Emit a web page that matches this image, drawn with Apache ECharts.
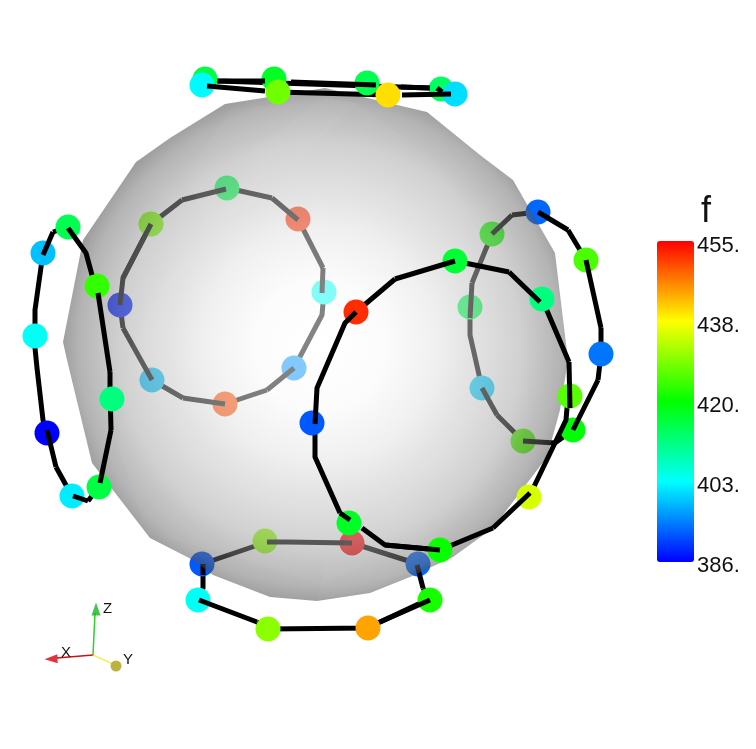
<!DOCTYPE html>
<html>
<head>
<meta charset="utf-8">
<style>html,body{margin:0;padding:0;background:#fff}#main{width:756px;height:749px}</style>
<script src="https://cdn.jsdelivr.net/npm/echarts@6/dist/echarts.min.js"></script>
</head>
<body>
<div id="main"></div>
<script>
const backLeftDots = [[227,188,415],[298,219,452],[324,292,404],[294,368,396],[225,404,450],[152,380,399],[120,305,388],[151,224,429]];
const rightDots = [[538,212,393],[586,260,425.5],[601,354,394],[573,430,420],[523,441,426],[482,388,400],[470,307,415],[492,234,422]];
const bottomDots = [[202,564,392],[265,541,430],[352,543,455],[418,564,393],[430,600,422],[368,628,444],[268,629,430],[198,600,404]];
const bigDots = [[356,312,452],[455,261,417],[542,299,412],[570,396,426.5],[529,497,435],[440,550,421],[349,523,418],[312,423,392]];
const leftDots = [[68,227,415],[97,286,424],[112,399,412],[99,487,416],[72,496,402],[47,433,386],[35,336,404],[43,253,399]];
const topDots = [[205,79,416],[274,79,418],[367,83,415],[441,89,414],[455,94,401],[202,85,403],[278,92,428],[388,95,440]];

// tube pieces that run under the dots / over the dots
const backUnder = [
  [[151,224],[182,200]], [[227,188],[272,198]], [[298,219],[323,268]], [[324,292],[322,315],[294,368]],
  [[225,404],[267,390]], [[152,380],[183,398]], [[120,305],[123,328]], [[123,278],[151,224]],
  [[512,215],[538,212]], [[568,230],[586,260]], [[601,328],[601,354],[598,380]], [[573,430],[555,443]],
  [[523,441],[497,415]], [[482,388],[470,335],[470,307]], [[472,283],[492,234]],
  [[202,564],[267,542]], [[203,564],[203,588],[198,600]], [[352,543],[418,564]], [[423,588],[430,600]],
  [[427,600],[380,622],[368,628],[268,629],[257,622]]
];
const backOver = [
  [[182,200],[226,189]], [[272,198],[298,220]], [[323,268],[322,293]], [[267,390],[294,368]],
  [[183,398],[225,404]], [[123,328],[152,380]], [[120,305],[123,278],[151,224]],
  [[492,234],[512,215]], [[538,212],[568,230]], [[586,260],[601,328]], [[598,380],[573,430]],
  [[555,443],[523,441]], [[497,415],[482,388]], [[472,283],[470,318]],
  [[267,542],[287,542],[352,543]], [[203,564],[203,575]], [[417,565],[423,588]], [[430,600],[380,622]],
  [[257,622],[199,600]]
];
const frontUnder = [
  [[395,279],[356,312]], [[315,424],[315,457],[340,513]], [[362,528],[385,545],[440,550]], [[455,261],[509,272]],
  [[569,362],[542,299]], [[570,396],[567,408],[566,420],[529,497]], [[440,550],[493,528]],
  [[53,232],[68,227]], [[43,253],[35,310],[35,348],[37,368],[43,420],[47,433]], [[56,467],[72,496]],
  [[88,501],[99,487]], [[111,430],[110,387],[110,372]], [[97,286],[92,275]],
  [[205,79],[218,81],[430,88],[441,89]], [[278,92],[388,95]], [[441,89],[455,94]]
];
const frontOver = [
  [[455,261],[395,279]], [[356,312],[345,323],[317,388],[315,424]], [[340,513],[350,520]],
  [[385,545],[440,550]], [[509,272],[540,302]], [[569,362],[570,408]], [[493,528],[530,493]],
  [[92,275],[86,253],[68,228]], [[53,232],[43,255]], [[47,430],[56,467]], [[73,496],[88,501]],
  [[100,483],[111,430]], [[110,372],[98,293]],
  [[218,81],[265,81]], [[291,82],[376,85]], [[401,87],[430,88]], [[437,88],[442,92]],
  [[207,86],[265,91]], [[402,95],[451,94]]
];

// sphere silhouette and a few faint mesh facets on it
const sphereOutline = [[325,88],[427,112],[480,155],[513,180],[555,253],[568,360],[560,410],[547,457],[493,528],[453,557],[410,577],[370,593],[317,601],[270,597],[213,575],[193,560],[150,538],[92,463],[67,360],[63,342],[83,240],[136,162],[170,138],[225,104]];
const facetInner = [[230,110],[323,98],[357,103],[437,162],[520,300],[530,420],[470,510],[400,550],[320,585],[230,555],[147,533],[117,443],[130,350],[160,283],[212,238],[187,175]];
const facetTop = [[253,147],[325,98],[357,103],[300,160],[255,182]];
const facetWedge = [[317,600],[327,555],[410,490],[440,560],[370,590]];
const sphereCenter = [320, 345];
const sphereRadius = 262;

// colour bar
const barMin = 386, barMax = 455;
const barColors = ['#0000ff','#00ffff','#00ff00','#ffff00','#ff0000'];
const barTickLabels = ['455.','438.','420.','403.','386.'];
const barTickY = [246,326,406,486,566];
const barTitle = 'f';

// orientation triad
const triadOrigin = [93,655];
const triadXEnd = [57,658], triadYEnd = [113,664], triadZEnd = [95,613];
const triadLabels = [['X',61,653],['Y',123,660],['Z',103,609]];

const flat = (polys) => polys.flatMap((p) => [...p, ['-','-']]);

const tube = (polys, z) => ({
  type: 'line', data: flat(polys), symbol: 'none', silent: true, z, connectNulls: false,
  lineStyle: { color: '#000', width: 5, cap: 'butt', join: 'round' }
});
const dots = (data, z) => ({
  type: 'scatter', data, symbolSize: 25, silent: true, z, itemStyle: { opacity: 1 }
});
const thin = (a, b, color) => ({
  type: 'line', data: [a, b], symbol: 'none', silent: true, z: 20, lineStyle: { color, width: 1.5 }
});
const textSeries = (items, font, z) => ({
  type: 'custom', data: items, silent: true, z, clip: false,
  encode: { x: 1, y: 2 },
  renderItem: (params, api) => {
    const p = api.coord([items[params.dataIndex][1], items[params.dataIndex][2]]);
    return {
      type: 'text', x: p[0], y: p[1],
      style: { text: items[params.dataIndex][0], font, fill: '#111', textAlign: 'left', textVerticalAlign: 'middle' }
    };
  }
});

const sphereSeries = {
  type: 'custom', data: [0], silent: true, z: 10, clip: false,
  renderItem: (params, api) => {
    const px = (pts) => pts.map((p) => api.coord(p));
    const c = api.coord(sphereCenter);
    const facet = (pts, a) => ({
      type: 'polygon', shape: { points: px(pts) }, style: { fill: `rgba(255,255,255,${a})` }
    });
    return {
      type: 'group',
      children: [
        {
          type: 'polygon', shape: { points: px(sphereOutline) },
          style: {
            fill: new echarts.graphic.RadialGradient(c[0], c[1], sphereRadius, [
              { offset: 0, color: 'rgba(255,255,255,0.5)' },
              { offset: 0.25, color: 'rgba(248,248,248,0.5)' },
              { offset: 0.45, color: 'rgba(224,224,224,0.5)' },
              { offset: 0.77, color: 'rgba(160,160,160,0.5)' },
              { offset: 0.92, color: 'rgba(105,105,105,0.5)' },
              { offset: 1, color: 'rgba(50,50,50,0.5)' }
            ], true)
          }
        },
        facet(facetInner, 0.03),
        facet(facetTop, 0.04),
        facet(facetWedge, 0.03)
      ]
    };
  }
};

const series = [
  tube(backUnder, 1),
  dots(backLeftDots.concat(rightDots, bottomDots), 2),
  tube(backOver, 3),
  sphereSeries,
  tube(frontUnder, 11),
  dots(leftDots.concat(bigDots, topDots), 12),
  tube(frontOver, 13),
  thin(triadOrigin, triadXEnd, '#d01010'),
  thin(triadOrigin, triadYEnd, '#f4ee60'),
  thin(triadOrigin, triadZEnd, '#30d030'),
  {
    type: 'scatter', silent: true, z: 21, symbol: 'triangle', symbolSize: [9, 13],
    data: [{ value: [96, 609], itemStyle: { color: '#10b820' } }, { value: [51, 659], symbolRotate: 92, itemStyle: { color: '#d80010' } }]
  },
  {
    type: 'scatter', silent: true, z: 21, symbolSize: 11, data: [[116, 666]], itemStyle: { color: '#aaa012' }
  },
  textSeries(triadLabels, '15px "Liberation Sans"', 22),
  textSeries(barTickLabels.map((t, i) => [t, 697, barTickY[i]]), '22px "Liberation Sans"', 22),
  textSeries([[barTitle, 701, 212]], '36px "Liberation Sans"', 22)
];

const chart = echarts.init(document.getElementById('main'));
chart.setOption({
  animation: false,
  backgroundColor: '#fff',
  grid: { left: 0, right: 0, top: 0, bottom: 0 },
  xAxis: { type: 'value', min: 0, max: 756, show: false },
  yAxis: { type: 'value', min: 0, max: 749, inverse: true, show: false },
  visualMap: {
    type: 'continuous', min: barMin, max: barMax, dimension: 2, seriesIndex: [1, 5],
    left: 657, top: 241, itemWidth: 37, itemHeight: 321, padding: 0, borderRadius: 0,
    calculable: false, hoverLink: false, realtime: false, showLabel: false, text: null,
    inRange: { color: barColors }
  },
  series
});
</script>
</body>
</html>
